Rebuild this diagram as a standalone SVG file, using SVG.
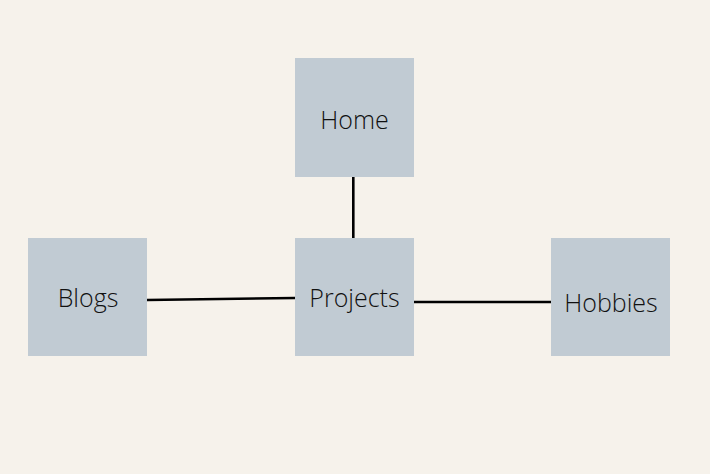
<svg xmlns="http://www.w3.org/2000/svg" width="710" height="474" viewBox="0 0 710 474">
<style>
.box{fill:#c1cbd3;}
.lbl{font-family:"Open Sans","Liberation Sans",sans-serif;font-weight:300;font-size:25px;fill:#111;text-anchor:middle;}
.edge{stroke:#000;stroke-width:2.6;fill:none;}
</style>
<rect width="710" height="474" fill="#f6f2eb"/>
<g id="connectors">
<line class="edge" x1="353.3" y1="177" x2="353.3" y2="238"/>
<line class="edge" x1="147" y1="300" x2="295" y2="298"/>
<line class="edge" x1="414" y1="302" x2="551" y2="302"/>
</g>
<g id="home"><rect class="box" x="295" y="58" width="119" height="119"/><text class="lbl" x="354.5" y="129">Home</text></g>
<g id="blogs"><rect class="box" x="28" y="238" width="119" height="118"/><text class="lbl" x="88" y="307">Blogs</text></g>
<g id="projects"><rect class="box" x="295" y="238" width="119" height="118"/><text class="lbl" x="354.5" y="307">Projects</text></g>
<g id="hobbies"><rect class="box" x="551" y="238" width="119" height="118"/><text class="lbl" x="611" y="312">Hobbies</text></g>
</svg>
